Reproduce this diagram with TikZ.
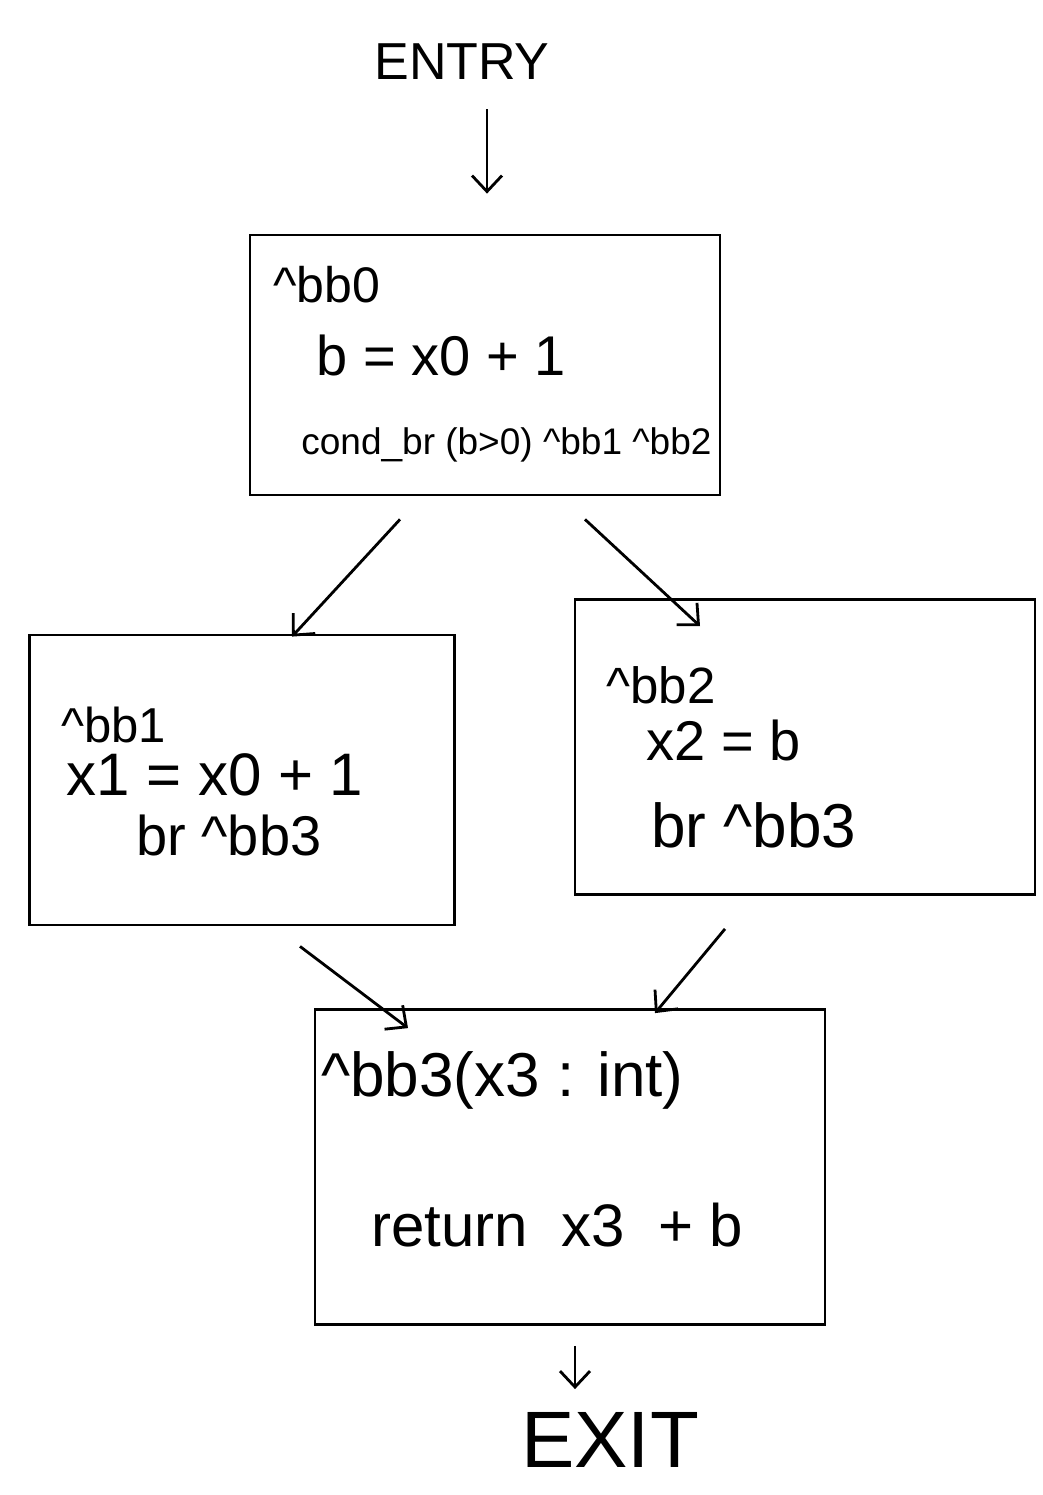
\documentclass[tikz,border=0pt]{standalone}
\usepackage{fontspec}
\setmainfont{Liberation Sans}
\usetikzlibrary{arrows.meta}
\begin{document}
\begin{tikzpicture}[x=1pt,y=-1pt,line width=2.8pt,>={Straight Barb[length=16pt,width=30pt]},
  block/.style={draw,rectangle,inner sep=0pt},
  txt/.style={anchor=west,inner sep=0pt,font=\fontsize{#1pt}{#1pt}\selectfont}]
  \useasboundingbox (0,0) rectangle (1042,1495);
  \node[txt=52,anchor=center] (entry) at (462,62) {ENTRY};
  \node[txt=80,anchor=center] (exit) at (610,1440) {EXIT};

  \node[block,minimum width=470,minimum height=260] (bb0) at (485,365) {};
  \node[block,minimum width=425,minimum height=290] (bb1) at (242,780) {};
  \node[block,minimum width=460,minimum height=295] (bb2) at (805,747) {};
  \node[block,minimum width=510,minimum height=315] (bb3) at (570,1167) {};

  \node[txt=50] (l0a) at (272,285) {\textasciicircum bb0};
  \node[txt=56] (l0b) at (315,355) {b = x0 +~1};
  \node[txt=37] (l0c) at (300,445) {cond\_br (b>0) \textasciicircum bb1 \textasciicircum bb2};

  \node[txt=49] (l1a) at (60,725) {\textasciicircum bb1};
  \node[txt=60] (l1b) at (65,775) {x1 = x0 + 1};
  \node[txt=56] (l1c) at (135,835) {br \textasciicircum bb3};

  \node[txt=51] (l2a) at (605,685) {\textasciicircum bb2};
  \node[txt=56] (l2b) at (645,740) {x2 = b};
  \node[txt=62] (l2c) at (650,825) {br \textasciicircum bb3};

  \node[txt=62] (l3a) at (320,1080) {\textasciicircum bb3(x3 : int)};
  \node[txt=60] (l3b) at (370,1225) {return~~x3~~+~b};

  \draw[->] ([xshift=25pt,yshift=-28pt]entry.south) -- ([xshift=2pt,yshift=40pt]bb0.north);
  \draw[->] ([xshift=-85pt,yshift=-23pt]bb0.south) -- ([xshift=50pt,yshift=-3pt]bb1.north);
  \draw[->] ([xshift=100pt,yshift=-23pt]bb0.south) -- ([xshift=-105pt,yshift=-28pt]bb2.north);
  \draw[->] ([xshift=58pt,yshift=-20pt]bb1.south) -- ([xshift=-162pt,yshift=-20pt]bb3.north);
  \draw[->] ([xshift=-80pt,yshift=-33pt]bb2.south) -- ([xshift=85pt,yshift=-5pt]bb3.north);
  \draw[->] ([xshift=5pt,yshift=-20pt]bb3.south) -- ([xshift=-35pt,yshift=22pt]exit.north);
\end{tikzpicture}
\end{document}
